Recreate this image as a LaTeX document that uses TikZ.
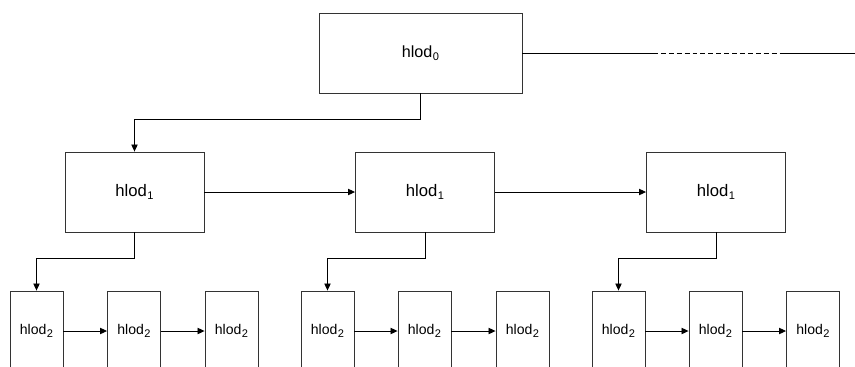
\documentclass[tikz,border=0pt]{standalone}
\usepackage{fontspec}
\setmainfont{Liberation Sans}
\usetikzlibrary{arrows.meta}

\newcommand{\lodsub}[1]{\kern0.3pt\raisebox{-1.4pt}{\fontsize{6.3}{6.5}\selectfont#1}}

\tikzset{
  lodbox/.style={draw=black!80,line width=0.5pt,inner sep=0pt},
  toplod/.style={lodbox,minimum width=4.06cm,minimum height=1.6cm,font=\fontsize{9.2}{11}\selectfont},
  midlod/.style={lodbox,minimum width=2.78cm,minimum height=1.6cm,font=\fontsize{9.5}{11}\selectfont},
  leaflod/.style={lodbox,minimum width=1.06cm,minimum height=1.6cm,font=\fontsize{8}{10}\selectfont},
  link/.style={draw,line width=0.5pt,-{Triangle[length=4pt,width=3.6pt]}},
  wire/.style={draw,line width=0.5pt}
}

\begin{document}
\begin{tikzpicture}[x=0.02cm,y=-0.02cm]
\clip (0,0) rectangle (855,366);

%%% ROOT LEVEL
\path[draw] (420.5,53) node[toplod] (root) {hlod\lodsub{0}};
\coordinate (dashA) at (653,53);
\coordinate (dashB) at (783,53);
\coordinate (rootEnd) at (855,53);
\path[wire] (root.east) -- (dashA);
\path[wire,dash pattern=on 2.8pt off 1.7pt] (dashA) -- (dashB);
\path[wire] (dashB) -- (rootEnd);

%%% FIRST LEVEL
\path[draw] (134.5,192) node[midlod] (midA) {hlod\lodsub{1}};
\path[draw] (425,192) node[midlod] (midB) {hlod\lodsub{1}};
\path[draw] (716,192) node[midlod] (midC) {hlod\lodsub{1}};
\path[link] (root.south) -- ++(0,26) -| (midA.north);
\path[link] (midA.east) -- (midB.west);
\path[link] (midB.east) -- (midC.west);

%%% SECOND LEVEL
\path[draw] (36.5,331) node[leaflod] (leafA1) {hlod\lodsub{2}};
\path[draw] (134,331) node[leaflod] (leafA2) {hlod\lodsub{2}};
\path[draw] (231.5,331) node[leaflod] (leafA3) {hlod\lodsub{2}};
\path[link] (midA.south) -- ++(0,26) -| (leafA1.north);
\path[link] (leafA1.east) -- (leafA2.west);
\path[link] (leafA2.east) -- (leafA3.west);

\path[draw] (327.5,331) node[leaflod] (leafB1) {hlod\lodsub{2}};
\path[draw] (424.5,331) node[leaflod] (leafB2) {hlod\lodsub{2}};
\path[draw] (522.5,331) node[leaflod] (leafB3) {hlod\lodsub{2}};
\path[link] (midB.south) -- ++(0,26) -| (leafB1.north);
\path[link] (leafB1.east) -- (leafB2.west);
\path[link] (leafB2.east) -- (leafB3.west);

\path[draw] (618.5,331) node[leaflod] (leafC1) {hlod\lodsub{2}};
\path[draw] (715.5,331) node[leaflod] (leafC2) {hlod\lodsub{2}};
\path[draw] (813,331) node[leaflod] (leafC3) {hlod\lodsub{2}};
\path[link] (midC.south) -- ++(0,26) -| (leafC1.north);
\path[link] (leafC1.east) -- (leafC2.west);
\path[link] (leafC2.east) -- (leafC3.west);
\end{tikzpicture}
\end{document}
